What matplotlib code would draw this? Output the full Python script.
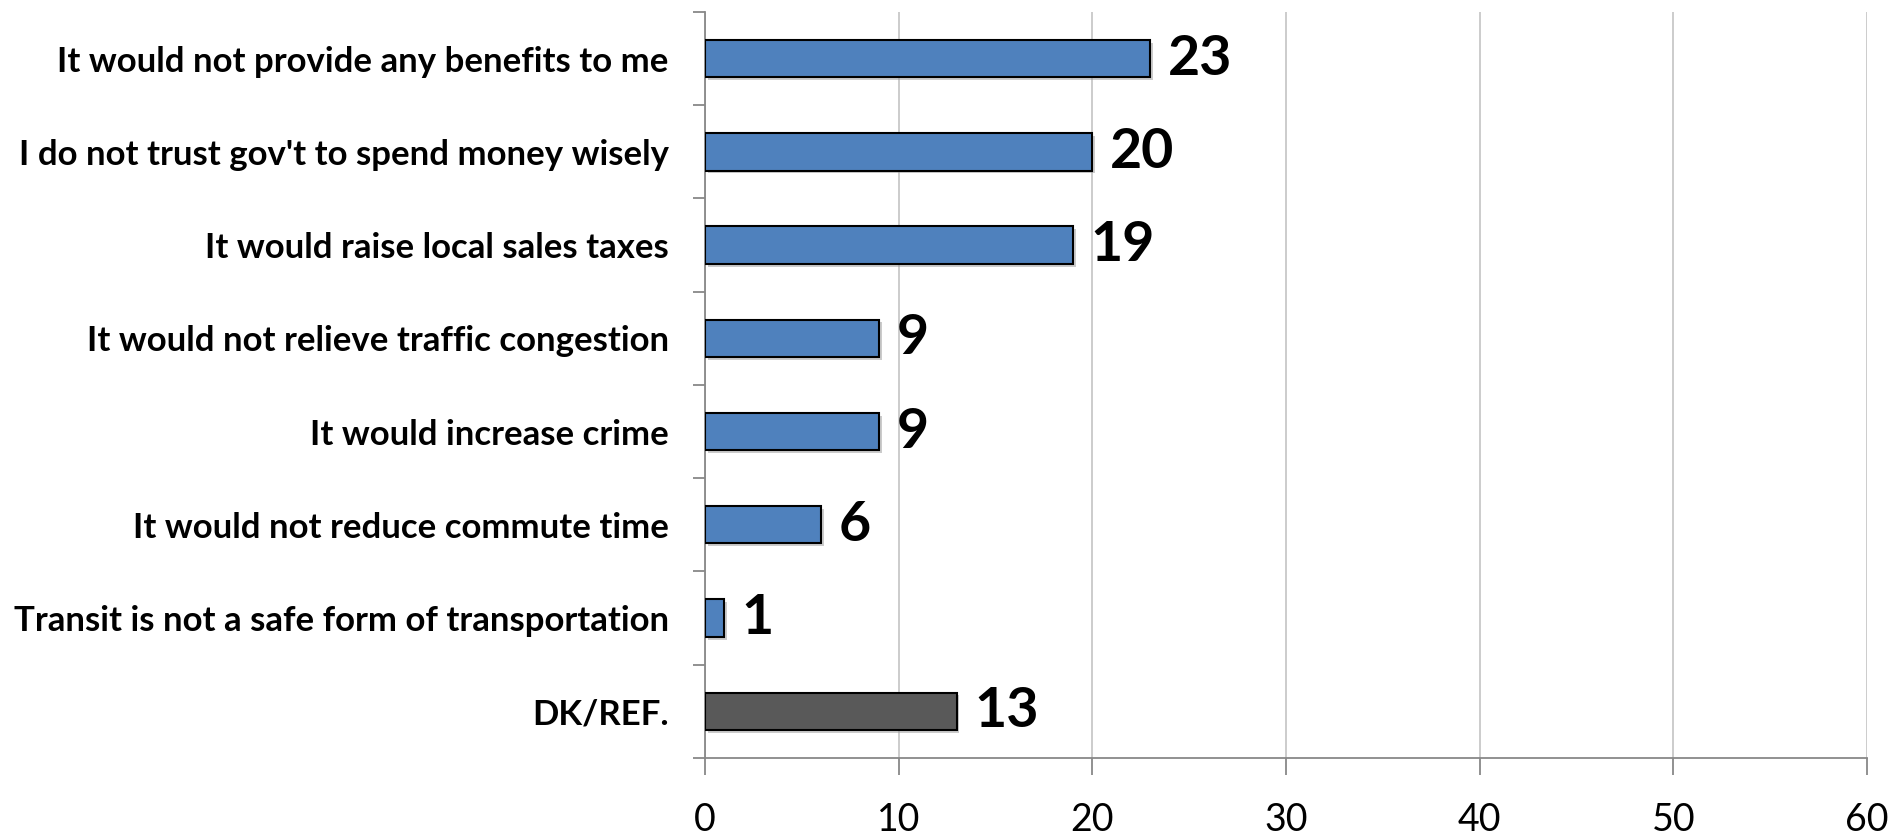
import matplotlib.pyplot as plt
import matplotlib.patheffects as pe
from matplotlib.ticker import FixedLocator, NullFormatter

categories = [
    "It would not provide any benefits to me",
    "I do not trust gov't to spend money wisely",
    "It would raise local sales taxes",
    "It would not relieve traffic congestion",
    "It would increase crime",
    "It would not reduce commute time",
    "Transit is not a safe form of transportation",
    "DK/REF.",
]
values = [23, 20, 19, 9, 9, 6, 1, 13]
bar_colors = ["#4F81BD"] * 7 + ["#595959"]
x_ticks = [0, 10, 20, 30, 40, 50, 60]

plt.rcParams['font.family'] = ['Lato', 'DejaVu Sans']

fig = plt.figure(figsize=(18.97, 8.38), dpi=100)
ax = fig.add_axes([0.3716, 0.0955, 0.6126, 0.8902])

ypos = list(range(len(categories)))
bars = ax.barh(ypos, values, height=0.4, color=bar_colors, edgecolor="black", linewidth=1.5, zorder=3)
# petite ombre portée comme dans Excel
for b in bars:
    b.set_path_effects([pe.SimplePatchShadow(offset=(2, -2), shadow_rgbFace="#999999", alpha=0.5), pe.Normal()])

for y, v in zip(ypos, values):
    ax.text(v + 0.9, y, str(v), va="center", ha="left", fontsize=40, fontweight="bold", zorder=4)

ax.set_xlim(0, 60)
ax.set_ylim(len(categories) - 0.5, -0.5)
ax.set_xticks(x_ticks)
ax.set_xticklabels([str(t) for t in x_ticks], fontsize=27)

# labels au milieu, graduations sur les limites
ax.set_yticks(ypos)
ax.set_yticklabels(categories, fontsize=25, fontweight="bold")
ax.tick_params(axis="y", which="major", length=0, pad=26)
ax.yaxis.set_minor_locator(FixedLocator([i - 0.5 for i in range(len(categories) + 1)]))
ax.yaxis.set_minor_formatter(NullFormatter())
ax.tick_params(axis="y", which="minor", length=9, color="#888888", width=1.3)
ax.tick_params(axis="x", length=12, color="#888888", width=1.3, pad=20)

ax.grid(axis="x", color="#C8C8C8", linewidth=1.3, zorder=0)
for s in ["top", "right"]:
    ax.spines[s].set_visible(False)
for s in ["left", "bottom"]:
    ax.spines[s].set_color("#888888")
    ax.spines[s].set_linewidth(1.3)

fig.savefig("out.png", dpi=100)
